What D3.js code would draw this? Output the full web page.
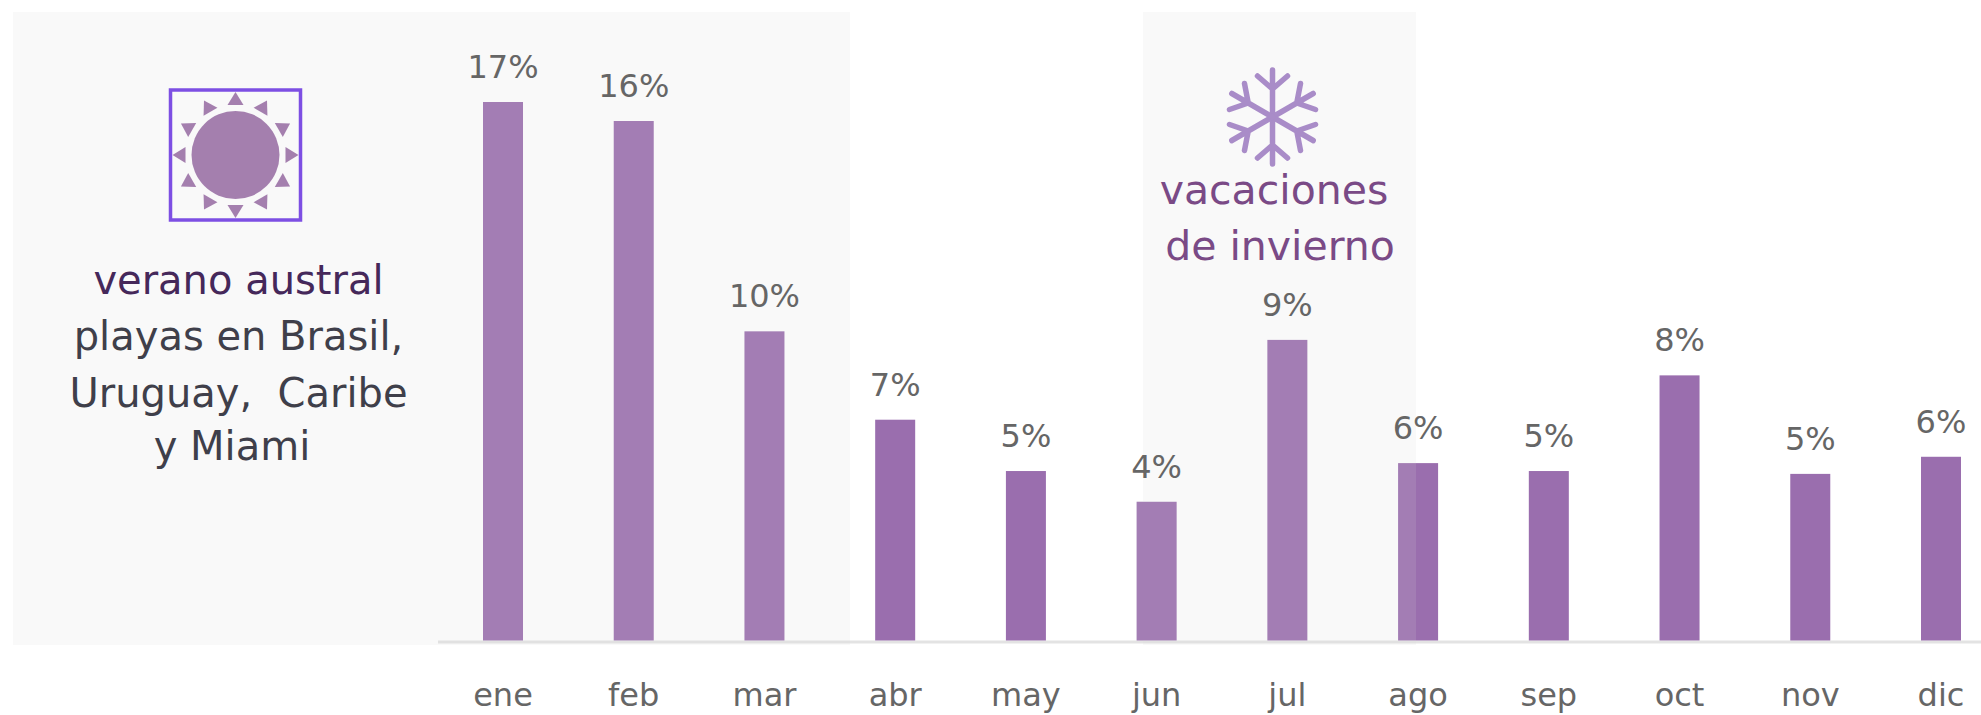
<!DOCTYPE html>
<html>
<head>
<meta charset="utf-8">
<script src="https://cdn.jsdelivr.net/npm/d3@7"></script>
<style>
	html, body { margin: 0; padding: 0; background: #fff; }
	svg { display: block; }
	text { font-family: "DejaVu Sans", sans-serif; }
</style>
</head>
<body>
<script>
const months = ["ene", "feb", "mar", "abr", "may", "jun", "jul", "ago", "sep", "oct", "nov", "dic"];
const shares = [17, 16.4, 9.76, 6.97, 5.35, 4.38, 9.49, 5.6, 5.35, 8.37, 5.26, 5.8];
const shareLabels = ["17%", "16%", "10%", "7%", "5%", "4%", "9%", "6%", "5%", "8%", "5%", "6%"];
const summerLines = ["verano austral", "playas en Brasil,", "Uruguay,  Caribe", "y Miami"];
const winterLines = ["vacaciones", "de invierno"];

const WIDTH = 1981;
const HEIGHT = 715;
const BASELINE = 640.5;
const WINTER_LEFT = 1143;

const svg = d3.select("body").append("svg")
	.attr("width", WIDTH)
	.attr("height", HEIGHT);

const x = d3.scaleBand()
	.domain(months)
	.range([483, 1961])
	.paddingInner(0.694)
	.paddingOuter(0);

const y = d3.scaleLinear()
	.domain([0, 17])
	.range([BASELINE, 102]);

// axis line first, the panels and bars sit on it
svg.append("rect")
	.attr("x", 438)
	.attr("y", BASELINE)
	.attr("width", WIDTH - 438)
	.attr("height", 3)
	.attr("fill", "#e3e3e3");

svg.append("g")
	.selectAll("rect")
	.data(months)
	.join("rect")
	.attr("x", d => x(d))
	.attr("y", (d, i) => y(shares[i]))
	.attr("width", x.bandwidth())
	.attr("height", (d, i) => BASELINE - y(shares[i]))
	.attr("fill", "#9a6eae");

// panels are translucent, they wash out whatever bar is under them (see ago)
const wash = (sel) => sel
	.attr("fill", "rgb(215,215,215)")
	.attr("fill-opacity", 0.15);

svg.append("g")
	.selectAll("rect")
	.data([[13, 850], [WINTER_LEFT, 1416]])
	.join("rect")
	.attr("x", d => d[0])
	.attr("y", 12)
	.attr("width", d => d[1] - d[0])
	.attr("height", 633)
	.call(wash);

// jun is washed over its full width in the original, not only inside the panel
svg.append("rect")
	.attr("x", x("jun"))
	.attr("y", y(shares[5]))
	.attr("width", WINTER_LEFT - x("jun"))
	.attr("height", BASELINE - y(shares[5]))
	.call(wash);

svg.append("g")
	.selectAll("text")
	.data(shareLabels)
	.join("text")
	.attr("x", (d, i) => x(months[i]) + x.bandwidth() / 2)
	.attr("y", (d, i) => y(shares[i]) - 24)
	.attr("text-anchor", "middle")
	.attr("font-size", 32)
	.attr("fill", "#666")
	.text(d => d);

const xAxis = svg.append("g")
	.attr("transform", `translate(0,${BASELINE})`)
	.call(d3.axisBottom(x).tickSize(0).tickPadding(43));
xAxis.select(".domain").remove();
xAxis.selectAll("text")
	.attr("font-size", 32)
	.attr("fill", "#666");
xAxis.attr("font-family", null);

// sun icon
const sun = svg.append("g").attr("transform", "translate(235.5,155)");
sun.append("rect")
	.attr("x", -65)
	.attr("y", -65)
	.attr("width", 130)
	.attr("height", 130)
	.attr("fill", "none")
	.attr("stroke", "#7d4fe3")
	.attr("stroke-width", 3.5);
sun.append("circle")
	.attr("r", 44)
	.attr("fill", "#a47fae");
sun.selectAll("path")
	.data(d3.range(12))
	.join("path")
	.attr("d", "M0,-63L8,-50L-8,-50Z")
	.attr("transform", d => `rotate(${d * 30})`)
	.attr("fill", "#a47fae");

// snowflake icon
const flake = svg.append("g")
	.attr("transform", "translate(1272.5,117)")
	.attr("stroke", "#a98cc8")
	.attr("stroke-width", 5.5)
	.attr("stroke-linecap", "round")
	.attr("fill", "none");
flake.selectAll("path")
	.data(d3.range(6))
	.join("path")
	.attr("d", "M0,0L0,-47M0,-28L-15,-41M0,-28L15,-41")
	.attr("transform", d => `rotate(${d * 60})`);

svg.append("g")
	.selectAll("text")
	.data(summerLines)
	.join("text")
	.attr("x", (d, i) => i === 3 ? 232 : 238.5)
	.attr("y", (d, i) => [294, 350, 407, 460][i])
	.attr("text-anchor", "middle")
	.attr("font-size", 40)
	.attr("fill", (d, i) => i === 0 ? "#45285a" : "#3f3f4a")
	.style("white-space", "pre")
	.text(d => d);

svg.append("g")
	.selectAll("text")
	.data(winterLines)
	.join("text")
	.attr("x", (d, i) => [1274, 1280][i])
	.attr("y", (d, i) => [204, 260][i])
	.attr("text-anchor", "middle")
	.attr("font-size", 41)
	.attr("fill", "#7a4a86")
	.text(d => d);
</script>
</body>
</html>
